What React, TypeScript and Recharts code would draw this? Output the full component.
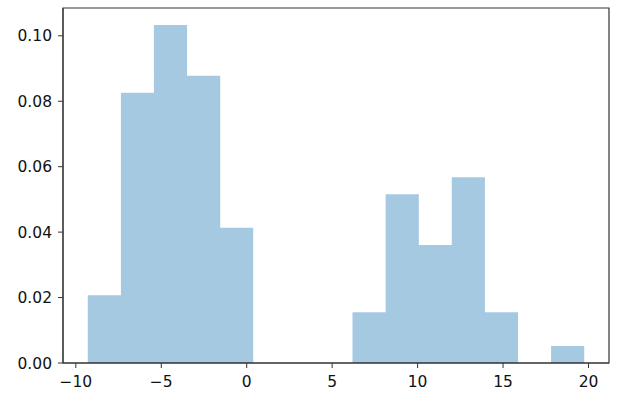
import { Area, AreaChart, ReferenceArea, XAxis, YAxis } from "recharts";

// bin edges (16 edges -> 15 bins)
const binEdges = [
  -9.3, -7.36, -5.43, -3.49, -1.55, 0.38, 2.32, 4.26, 6.19, 8.13, 10.07, 12.0,
  13.94, 15.88, 17.81, 19.75,
];
// density of each bin
const densities = [
  0.0207, 0.0826, 0.1033, 0.0878, 0.0413, 0, 0, 0, 0.0155, 0.0516, 0.0361,
  0.0568, 0.0155, 0, 0.0052,
];
const xTicks = [-10, -5, 0, 5, 10, 15, 20];
const yTicks = [0, 0.02, 0.04, 0.06, 0.08, 0.1];
const xDomain = [-10.75, 21.2];
const yDomain = [0, 0.1085];

// step data: every edge carries the height of the bin to its right
const stepData = binEdges.map((edge, i) => ({
  x: edge,
  y: i < densities.length ? densities[i] : 0,
}));

const font = { fontFamily: "DejaVu Sans", fontSize: 15.5, fill: "#111" };
const axisColor = "#333";

const fmtX = (v: number) => String(v).replace("-", "\u2212");
const fmtY = (v: number) => v.toFixed(2);

export default function App() {
  return (
    <div style={{ position: "absolute", left: 0, top: 0, background: "#fff" }}>
      <AreaChart
        width={624}
        height={398}
        data={stepData}
        margin={{ top: 8, right: 15, bottom: 0, left: 0 }}
      >
        <XAxis
          dataKey="x"
          type="number"
          domain={xDomain}
          ticks={xTicks}
          tickFormatter={fmtX}
          tick={font}
          tickSize={5}
          tickMargin={8}
          height={35}
          stroke={axisColor}
          allowDataOverflow
        />
        <YAxis
          type="number"
          domain={yDomain}
          ticks={yTicks}
          tickFormatter={fmtY}
          tick={font}
          tickSize={5}
          tickMargin={6}
          width={63}
          stroke={axisColor}
          allowDataOverflow
        />
        <Area
          dataKey="y"
          type="stepAfter"
          stroke="none"
          fill="#1f77b4"
          fillOpacity={0.4}
          baseValue={0}
          isAnimationActive={false}
          dot={false}
          activeDot={false}
        />
        <ReferenceArea
          x1={xDomain[0]}
          x2={xDomain[1]}
          y1={yDomain[0]}
          y2={yDomain[1]}
          fill="none"
          stroke={axisColor}
          strokeWidth={1.2}
        />
      </AreaChart>
    </div>
  );
}
